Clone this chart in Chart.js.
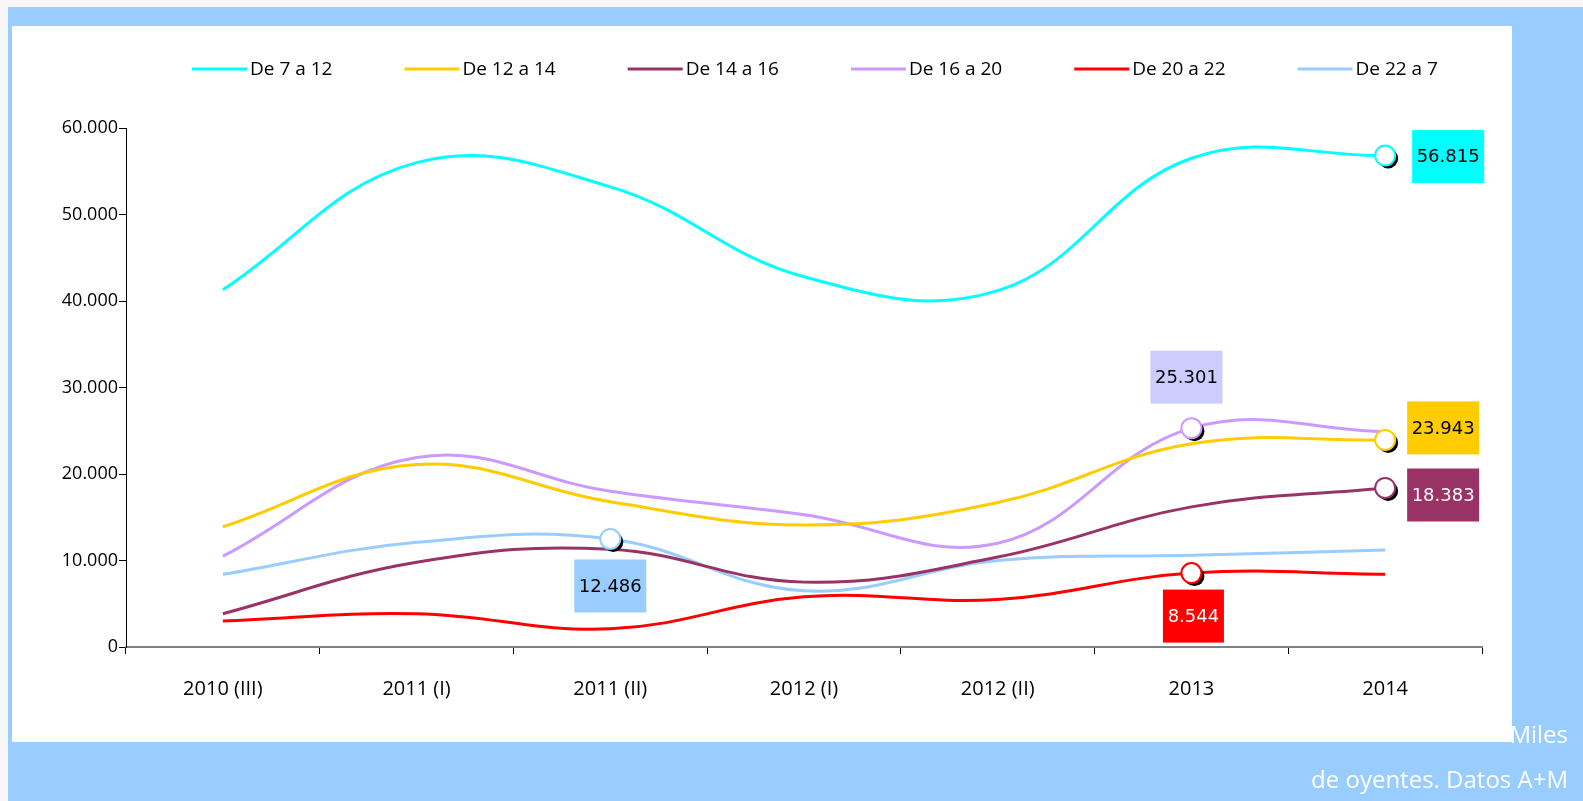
<!DOCTYPE html>
<html>
<head>
<meta charset="utf-8">
<script src="https://cdn.jsdelivr.net/npm/chart.js@4.4.1/dist/chart.umd.min.js"></script>
<style>
  html, body { margin: 0; padding: 0; background: #f7f7f7; }
  canvas { display: block; }
</style>
</head>
<body>
<canvas id="oyentes" width="1583" height="801"></canvas>
<script>
// datos (miles de oyentes)
const categories = ['2010 (III)', '2011 (I)', '2011 (II)', '2012 (I)', '2012 (II)', '2013', '2014'];
const seriesNames = ['De 7 a 12', 'De 12 a 14', 'De 14 a 16', 'De 16 a 20', 'De 20 a 22', 'De 22 a 7'];
const de7a12  = [41300, 56000, 53200, 42800, 41200, 56500, 56815];
const de12a14 = [13900, 21100, 16800, 14100, 16700, 23500, 23943];
const de14a16 = [3850, 9800, 11300, 7500, 10400, 16200, 18383];
const de16a20 = [10500, 21900, 18000, 15300, 12000, 25301, 24900];
const de20a22 = [3000, 3850, 2100, 5800, 5500, 8544, 8400];
const de22a7  = [8400, 12100, 12486, 6500, 10000, 10600, 11200];
const yTicks  = [0, 10000, 20000, 30000, 40000, 50000, 60000];
// punto destacado de cada serie
const highlighted = [6, 6, 6, 5, 5, 2];

const colors = ['#00ffff', '#ffcc00', '#993366', '#cc99ff', '#ff0000', '#99ccff'];
// caja de la etiqueta: color, color del texto, desplazamiento respecto al punto
const labelStyle = [
    {bg: '#00ffff', fg: '#000', dx: 63, dy: 1, w: 72},
    {bg: '#ffcc00', fg: '#000', dx: 58, dy: -12, w: 72},
    {bg: '#993366', fg: '#fff', dx: 58, dy: 7, w: 72},
    {bg: '#ccccff', fg: '#000', dx: -5, dy: -51, w: 72},
    {bg: '#ff0000', fg: '#fff', dx: 2, dy: 43, w: 61},
    {bg: '#99ccff', fg: '#000', dx: 0, dy: 47, w: 72}
];

function fmt(v) {
    return String(v).replace(/\B(?=(\d{3})+(?!\d))/g, '.');
}

const allSeries = [de7a12, de12a14, de14a16, de16a20, de20a22, de22a7];

const backdrop = {
    id: 'backdrop',
    beforeDraw(chart) {
        const c = chart.ctx;
        c.save();
        c.fillStyle = '#f7f7f7';
        c.fillRect(0, 0, chart.width, chart.height);
        c.fillStyle = '#99ccff';
        c.fillRect(8, 7, chart.width - 8, chart.height - 7);
        c.fillStyle = '#ffffff';
        c.fillRect(12, 26, 1500, 716);
        c.restore();
    },
    afterDraw(chart) {
        const c = chart.ctx;
        c.save();
        // leyenda
        c.font = '19px "Open Sans"';
        c.textBaseline = 'middle';
        c.textAlign = 'left';
        var x = 192;
        seriesNames.forEach(function(name, i) {
            c.strokeStyle = colors[i];
            c.lineWidth = 3;
            c.beginPath();
            c.moveTo(x, 69);
            c.lineTo(x + 55, 69);
            c.stroke();
            c.fillStyle = '#000';
            c.fillText(name, x + 58, 70);
            x += 58 + c.measureText(name).width + 72;
        });
        // nota
        c.fillStyle = '#ffffff';
        c.textAlign = 'right';
        c.font = '24px "Open Sans"';
        c.fillText('Miles', 1568, 736);
        c.fillText('de oyentes. Datos A+M', 1568, 781);
        c.restore();
    },
    afterDatasetsDraw(chart) {
        const c = chart.ctx;
        c.save();
        chart.data.datasets.forEach(function(ds, i) {
            const idx = highlighted[i];
            const pt = chart.getDatasetMeta(i).data[idx];
            // sombra
            c.fillStyle = '#000';
            c.beginPath();
            c.arc(pt.x + 3, pt.y + 3, 10, 0, Math.PI * 2);
            c.fill();
            c.fillStyle = '#fff';
            c.strokeStyle = colors[i];
            c.lineWidth = 2;
            c.beginPath();
            c.arc(pt.x, pt.y, 10, 0, Math.PI * 2);
            c.fill();
            c.stroke();
            // etiqueta
            const st = labelStyle[i];
            const cx = pt.x + st.dx, cy = pt.y + st.dy;
            c.fillStyle = st.bg;
            c.fillRect(cx - st.w / 2, cy - 26.5, st.w, 53);
            c.fillStyle = st.fg;
            c.font = '18px "DejaVu Sans"';
            c.textAlign = 'center';
            c.textBaseline = 'middle';
            c.fillText(fmt(ds.data[idx]), cx, cy + 1);
        });
        c.restore();
    }
};

const ctx = document.getElementById('oyentes').getContext('2d');
new Chart(ctx, {
    type: 'line',
    data: {
        labels: categories,
        datasets: allSeries.map(function(vals, i) {
            return {
                label: seriesNames[i],
                data: vals,
                borderColor: colors[i],
                backgroundColor: colors[i],
                borderWidth: 3,
                tension: 0.4,
                pointRadius: 0,
                fill: false
            };
        })
    },
    options: {
        responsive: false,
        devicePixelRatio: 1,
        animation: false,
        layout: {padding: {top: 128, right: 101, left: 0, bottom: 0}},
        plugins: {
            legend: {display: false},
            tooltip: {enabled: false}
        },
        scales: {
            x: {
                offset: true,
                grid: {offset: true, drawOnChartArea: false, tickLength: 7, color: '#000'},
                border: {color: '#808080', width: 2},
                ticks: {color: '#000', font: {family: 'Open Sans', size: 20}, padding: 23, maxRotation: 0},
                afterFit: function(axis) { axis.height = 154; }
            },
            y: {
                min: 0,
                max: 60000,
                afterBuildTicks: function(axis) { axis.ticks = yTicks.map(function(v) { return {value: v}; }); },
                grid: {drawOnChartArea: false, tickLength: 7, color: '#000'},
                border: {color: '#000', width: 1},
                ticks: {
                    color: '#000',
                    font: {family: 'Open Sans', size: 18},
                    padding: 1,
                    callback: function(v) { return fmt(v); }
                },
                afterFit: function(axis) { axis.width = 126; }
            }
        }
    },
    plugins: [backdrop]
});
</script>
</body>
</html>
